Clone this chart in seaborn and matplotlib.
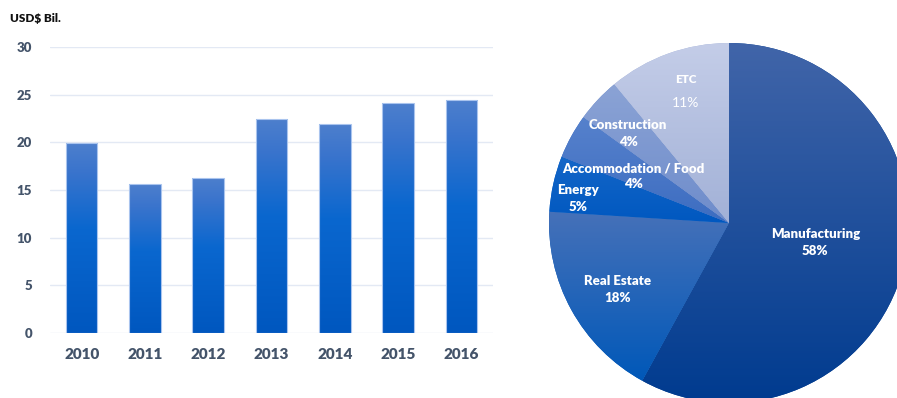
import numpy as np
import pandas as pd
import matplotlib
matplotlib.use("Agg")
import matplotlib.pyplot as plt
import seaborn as sns
from matplotlib.colors import LinearSegmentedColormap

# ---- data ----
years = ["2010", "2011", "2012", "2013", "2014", "2015", "2016"]
values = [19.9, 15.6, 16.3, 22.4, 21.9, 24.1, 24.4]

sectors = ["Manufacturing", "Real Estate", "Energy", "Accommodation / Food", "Construction", "ETC"]
shares = [58, 18, 5, 4, 4, 11]
share_labels = ["58%", "18%", "5%", "4%", "4%", "11%"]

# ---- style ----
sns.set_theme(style="white")
plt.rcParams["font.family"] = ["Lato", "DejaVu Sans"]
TICK = "#44546a"
BOLD = "heavy"

W, H = 897, 398
fig = plt.figure(figsize=(W / 100, H / 100), dpi=100)

# ---- bar chart ----
ax = fig.add_axes([50 / W, 1 - 333 / H, 443 / W, 286 / H])
df = pd.DataFrame({"year": years, "value": values})
sns.barplot(data=df, x="year", y="value", ax=ax, color="#0a66cc", width=0.5,
            saturation=1, edgecolor="#a9c4ee", linewidth=0.8)

bar_cmap = LinearSegmentedColormap.from_list(
    "bar", [(0, "#0057bf"), (0.55, "#0a67cf"), (0.85, "#3a74cc"), (1, "#4d7fcd")])
grad = np.linspace(0, 1, 256).reshape(-1, 1)
for p in list(ax.patches):
    x0, w, h = p.get_x(), p.get_width(), p.get_height()
    im = ax.imshow(grad, extent=(x0, x0 + w, 0, h), origin="lower", cmap=bar_cmap,
                   aspect="auto", zorder=2, interpolation="bilinear")
    im.set_clip_path(p)
    p.set_facecolor("none")
    p.set_zorder(3)

ax.set_xlim(-0.5, 6.5)
ax.set_ylim(0, 30)
ax.set_yticks(range(0, 31, 5))
ax.set_axisbelow(True)
ax.grid(axis="y", color="#e3e9f4", linewidth=1)
ax.grid(axis="x", visible=False)
for s in ax.spines.values():
    s.set_visible(False)
ax.set_xlabel("")
ax.set_ylabel("")
ax.tick_params(axis="y", length=0, pad=13, labelsize=9.5, labelcolor=TICK)
ax.tick_params(axis="x", length=0, pad=11, labelsize=11, labelcolor=TICK)
for lab in ax.get_yticklabels() + ax.get_xticklabels():
    lab.set_fontweight(BOLD)

fig.text(10 / W, 1 - 18 / H, "USD$ Bil.", fontsize=8.5, fontweight=BOLD,
         color="#111111", va="center", ha="left")

# ---- pie chart ----
cx, cy, r = 729, 223, 180
pax = fig.add_axes([(cx - r) / W, 1 - (cy + r) / H, 2 * r / W, 2 * r / H])
wedge_colors = [("#4165a9", "#003b8f"), ("#4671b9", "#0058b8"), ("#1466c8", "#0058c0"),
                ("#5681cc", "#3d6dc1"), ("#8ba3d5", "#6e8ccb"), ("#c4cde8", "#a2b1d7")]
wedges, _ = pax.pie(shares, startangle=90, counterclock=False, radius=1,
                    colors=[c[1] for c in wedge_colors],
                    wedgeprops=dict(linewidth=0))
for wdg, (top, bot) in zip(wedges, wedge_colors):
    th = np.radians(np.linspace(wdg.theta1, wdg.theta2, 200))
    ys = np.concatenate([np.sin(th), [0]])
    ymin, ymax = ys.min(), ys.max()
    cm = LinearSegmentedColormap.from_list("w", [bot, top])
    im = pax.imshow(grad, extent=(-1, 1, ymin, ymax), origin="lower", cmap=cm,
                    aspect="auto", zorder=2, interpolation="bilinear")
    im.set_clip_path(wdg)
pax.set_xlim(-1, 1)
pax.set_ylim(-1, 1)
pax.axis("off")

# (x, y of name line, y of percent line) in pie radius units
label_pos = [(0.48, -0.06, -0.155), (-0.62, -0.32, -0.415), (-0.84, 0.185, 0.09),
             (-0.53, 0.305, 0.215), (-0.56, 0.545, 0.45), (-0.24, 0.795, 0.665)]
for name, pct, (lx, ny, py) in zip(sectors, share_labels, label_pos):
    is_etc = name == "ETC"
    pax.text(lx, ny, name, color="white", fontsize=8.5 if is_etc else 9.5,
             fontweight=BOLD, ha="center", va="center", zorder=5)
    pax.text(lx, py, pct, color="white", fontsize=10 if is_etc else 9.5,
             fontweight="normal" if is_etc else BOLD, ha="center", va="center", zorder=5)

fig.savefig("out.png", dpi=100)
